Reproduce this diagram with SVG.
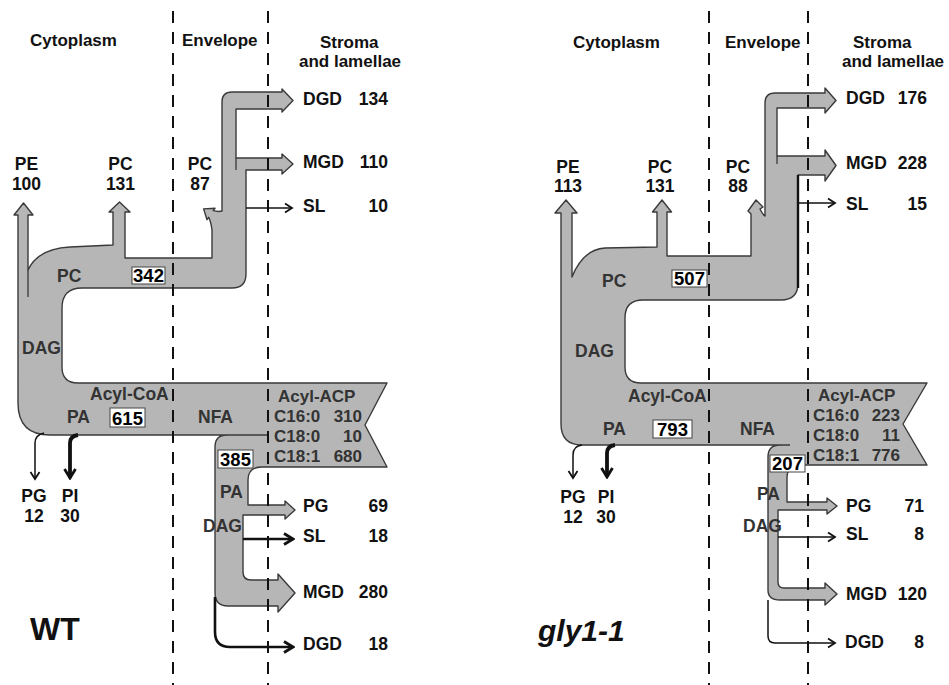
<svg xmlns="http://www.w3.org/2000/svg" width="949" height="685" viewBox="0 0 949 685">
<defs>
<style>
text{font-family:"Liberation Sans",Arial,Helvetica,sans-serif;font-weight:bold;font-size:17.5px;fill:#111}
.hd{font-size:17px}
.in{fill:#333}
.ac{font-size:17px}
.num{font-size:18.5px;fill:#000}
.c{text-anchor:middle}
.e{text-anchor:end}
.flow{fill:#b6b6b6;stroke:#3a3a3a;stroke-width:1.4;stroke-linejoin:round}
.edge{fill:none;stroke:#3a3a3a;stroke-width:1.3}
.box{fill:#fff;stroke:#444;stroke-width:1}
.dash{stroke:#111;stroke-width:2;stroke-dasharray:12 9;fill:none}
.thin{fill:none;stroke:#111;stroke-width:1.5}
.thick{fill:none;stroke:#111;stroke-width:2.6}
.pi{fill:none;stroke:#111;stroke-width:3.8}
</style>
<marker id="ah" viewBox="0 0 12 12" markerWidth="12" markerHeight="12" refX="10" refY="6" orient="auto" markerUnits="userSpaceOnUse"><path d="M3,1.5 L10,6 L3,10.5" fill="none" stroke="#111" stroke-width="1.8"/></marker>
<marker id="ahb" viewBox="0 0 14 14" markerWidth="14" markerHeight="14" refX="12" refY="7" orient="auto" markerUnits="userSpaceOnUse"><path d="M3,1.5 L12,7 L3,12.5" fill="none" stroke="#111" stroke-width="2.8"/></marker>
</defs>
<rect width="949" height="685" fill="#fff"/>

<g id="wt-flow">
<path class="flow" d="M18 215 L14 215 L23.5 203 L33 215 L28 215 L28 270 C35 255 50 248 70 247 L113 245 L113 212 L109 212 L119.5 202 L130 212 L125 212 L125 258 L212 258 L212 230 Q211 222 208.7 217.3 L207 219.7 L203.6 208.9 L215 208.3 L213.3 210.7 Q218 212 222 211 L222 102 Q222 92 232 92 L282 92 L282 89 L293 100.5 L282 112 L282 109 L236 109 L236 158 L282 158 L282 154 L293 164 L282 174 L282 170 L246 170 L246 274 Q246 288 232 288 L82 288 Q62 288 62 308 L62 367 Q62 383 78 383 L387 383 L365 425 L387 467 L262 467 Q248 467 248 480 L248 505 L285 505 L285 501 L295 510 L285 519 L285 515 L243 515 L243 572 Q243 580 251 580 L278 580 L278 574 L295 593 L278 612 L278 606 L228 606 Q215 606 215 593 L215 447 Q215 435 227 435 L50 435 Q18 435 18 403 Z"/>
<path class="edge" d="M28 270 L28 297 M227 435 L268 435 M236 158 L236 170"/>
</g>

<g id="gly-flow">
<path class="flow" d="M561 213 L555 213 L566 200 L577 213 L572 213 L572 277 C578 262 588 249 605 248 L657 247 L657 212 L652.5 212 L662 200 L671.5 212 L667 212 L667 256 L751 256 L751 214 L748 211 L756 200 L763 207 L760 209 Q763 215 765 216 L765 103 Q765 93 775 93 L825 93 L825 88 L836 100.5 L825 113 L825 108 L777 108 L777 156 L825 156 L825 150 L836 165.5 L825 181 L825 175 L798 175 L798 283 Q798 300 781 300 L643 300 Q625 300 625 318 L625 367 Q625 383 641 383 L927 383 L903 424 L927 465 L800 465 Q787 465 787 478 L787 502 L827 502 L827 498 L837 506 L827 514 L827 510 L778 510 L778 582 Q778 588 784 588 L825 588 L825 583 L837 594 L825 605 L825 600 L780 600 Q768 600 768 590 L768 457 Q768 445 780 445 L582 445 Q561 445 561 424 Z"/>
<path class="edge" d="M780 445 L790 445 M777 156 L777 164"/>
<line x1="798" y1="175" x2="798" y2="288" stroke="#111" stroke-width="2.4"/>
</g>

<g id="connectors">
<path class="thin" d="M246 208 L292 208" marker-end="url(#ah)"/>
<path class="thin" d="M44 433 Q35 435 35 443 L35 479" marker-end="url(#ah)"/>
<path class="pi" d="M78 435 Q70 436 70 443 L70 478" marker-end="url(#ahb)"/>
<path class="thick" d="M243 539 L293 539" marker-end="url(#ahb)"/>
<path class="thick" d="M215 597 L215 632 Q215 647 230 647 L293 647" marker-end="url(#ahb)"/>
<path class="thin" d="M798 203 L835 203" marker-end="url(#ah)"/>
<path class="thin" d="M582 445 Q573 446 573 455 L573 478" marker-end="url(#ah)"/>
<path class="pi" d="M615 445 Q607 446 607 453 L607 477" marker-end="url(#ahb)"/>
<path class="thin" d="M778 537 L835 537" marker-end="url(#ah)"/>
<path class="thin" d="M768 600 L768 636 Q768 643 775 643 L835 643" marker-end="url(#ah)"/>
</g>

<g id="compartments">
<line class="dash" x1="173" y1="11" x2="173" y2="685"/>
<line class="dash" x1="268" y1="11" x2="268" y2="685"/>
<line class="dash" x1="709" y1="11" x2="709" y2="685"/>
<line class="dash" x1="808" y1="11" x2="808" y2="685"/>
</g>

<g id="headers">
<text class="hd" x="30" y="46">Cytoplasm</text>
<text class="hd" x="182" y="46">Envelope</text>
<text class="hd" x="320" y="48">Stroma</text>
<text class="hd" x="299" y="67">and lamellae</text>
<text class="hd" x="573" y="48">Cytoplasm</text>
<text class="hd" x="725" y="48">Envelope</text>
<text class="hd" x="853" y="48">Stroma</text>
<text class="hd" x="842" y="67">and lamellae</text>
</g>

<g id="wt-labels">
<text class="c" x="26.5" y="170">PE</text><text class="c" x="26.5" y="190">100</text>
<text class="c" x="120.5" y="170">PC</text><text class="c" x="120.5" y="190">131</text>
<text class="c" x="200" y="170">PC</text><text class="c" x="200" y="190">87</text>
<text x="303" y="105">DGD</text><text class="e" x="388" y="105">134</text>
<text x="303" y="168">MGD</text><text class="e" x="388" y="168">110</text>
<text x="303" y="212">SL</text><text class="e" x="388" y="212">10</text>
<text x="303" y="512">PG</text><text class="e" x="388" y="512">69</text>
<text x="303" y="542">SL</text><text class="e" x="388" y="542">18</text>
<text x="303" y="598">MGD</text><text class="e" x="388" y="598">280</text>
<text x="303" y="650">DGD</text><text class="e" x="388" y="650">18</text>
<text class="c" x="34" y="502">PG</text><text class="c" x="34" y="522">12</text>
<text class="c" x="70" y="502">PI</text><text class="c" x="70" y="522">30</text>
<text class="in" x="57" y="282">PC</text>
<text class="in" x="22" y="354">DAG</text>
<text class="in" x="90" y="400">Acyl-CoA</text>
<text class="in" x="67" y="423">PA</text>
<text class="in" x="198" y="423">NFA</text>
<text class="in ac" x="278" y="402">Acyl-ACP</text>
<text class="in ac" x="274" y="422">C16:0</text><text class="in ac e" x="362" y="422">310</text>
<text class="in ac" x="274" y="442">C18:0</text><text class="in ac e" x="362" y="442">10</text>
<text class="in ac" x="274" y="462">C18:1</text><text class="in ac e" x="362" y="462">680</text>
<text class="in" x="220" y="498">PA</text>
<text class="in" x="203" y="532">DAG</text>
<rect class="box" x="132" y="267" width="33" height="17"/><text class="num c" x="148.5" y="282">342</text>
<rect class="box" x="110" y="408" width="35" height="19"/><text class="num c" x="127.5" y="424.5">615</text>
<rect class="box" x="218" y="450" width="35" height="18"/><text class="num c" x="235.5" y="465.5">385</text>
<text x="30" y="640" style="font-size:32px">WT</text>
</g>

<g id="gly-labels">
<text class="c" x="568" y="173">PE</text><text class="c" x="568" y="192">113</text>
<text class="c" x="660" y="173">PC</text><text class="c" x="660" y="192">131</text>
<text class="c" x="738" y="173">PC</text><text class="c" x="738" y="192">88</text>
<text x="846" y="104">DGD</text><text class="e" x="927" y="104">176</text>
<text x="846" y="169">MGD</text><text class="e" x="927" y="169">228</text>
<text x="846" y="210">SL</text><text class="e" x="927" y="210">15</text>
<text x="846" y="512">PG</text><text class="e" x="924" y="512">71</text>
<text x="846" y="540">SL</text><text class="e" x="924" y="540">8</text>
<text x="846" y="600">MGD</text><text class="e" x="927" y="600">120</text>
<text x="845" y="648">DGD</text><text class="e" x="924" y="648">8</text>
<text class="c" x="573" y="503">PG</text><text class="c" x="573" y="523">12</text>
<text class="c" x="606" y="503">PI</text><text class="c" x="606" y="523">30</text>
<text class="in" x="602" y="287">PC</text>
<text class="in" x="575" y="357">DAG</text>
<text class="in" x="628" y="402">Acyl-CoA</text>
<text class="in" x="603" y="435">PA</text>
<text class="in" x="740" y="435">NFA</text>
<text class="in ac" x="818" y="401">Acyl-ACP</text>
<text class="in ac" x="813" y="421">C16:0</text><text class="in ac e" x="900" y="421">223</text>
<text class="in ac" x="813" y="441">C18:0</text><text class="in ac e" x="900" y="441">11</text>
<text class="in ac" x="813" y="461">C18:1</text><text class="in ac e" x="900" y="461">776</text>
<text class="in" x="757" y="500">PA</text>
<text class="in" x="743" y="532">DAG</text>
<rect class="box" x="672" y="270" width="35" height="17"/><text class="num c" x="689.5" y="285">507</text>
<rect class="box" x="653" y="420" width="39" height="18"/><text class="num c" x="672.5" y="435.5">793</text>
<rect class="box" x="770" y="455" width="35" height="17"/><text class="num c" x="787.5" y="470">207</text>
<text x="538" y="641" style="font-size:30px;font-style:italic">gly1-1</text>
</g>
</svg>
